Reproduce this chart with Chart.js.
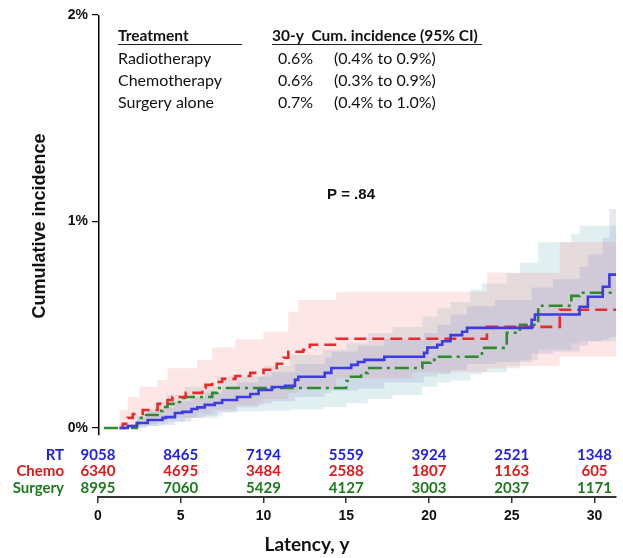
<!DOCTYPE html>
<html>
<head>
<meta charset="utf-8">
<script src="https://cdn.jsdelivr.net/npm/chart.js@4.4.0/dist/chart.umd.min.js"></script>
<style>
  html, body { margin: 0; padding: 0; background: #fff; }
</style>
</head>
<body>
<canvas id="chart" width="623" height="558"></canvas>
<script>
// --- Courbes d'incidence cumulée (en %) ---
const rtT = [1.3, 1.8, 2.35, 3.0, 3.9, 4.1, 4.65, 5.1, 5.65, 6.0, 6.45, 7.05, 7.5, 8.4, 9.2, 9.7, 10.5, 11.3, 11.9, 12.1, 13.7, 14.1, 15.3, 15.7, 16.1, 17.3, 19.7, 19.9, 20.5, 20.8, 21.3, 22.0, 22.3, 26.2, 26.4, 29.1, 29.6, 30.5, 30.9, 31.3];
const rtV = [0, 0.01, 0.024, 0.039, 0.049, 0.053, 0.073, 0.078, 0.092, 0.10, 0.112, 0.121, 0.136, 0.15, 0.165, 0.184, 0.199, 0.204, 0.233, 0.248, 0.267, 0.291, 0.306, 0.32, 0.33, 0.345, 0.364, 0.39, 0.403, 0.42, 0.45, 0.466, 0.485, 0.524, 0.55, 0.587, 0.636, 0.684, 0.743, 0.743];

const chT = [1.3, 1.5, 1.8, 2.1, 2.7, 3.6, 4.2, 4.5, 5.3, 6.3, 6.5, 6.9, 7.5, 8.3, 9.2, 10.0, 10.8, 11.2, 11.5, 12.4, 12.8, 14.4, 23.5, 27.9, 31.3];
const chV = [0, 0.02, 0.049, 0.068, 0.087, 0.117, 0.136, 0.150, 0.170, 0.194, 0.209, 0.223, 0.238, 0.252, 0.267, 0.282, 0.311, 0.34, 0.369, 0.379, 0.403, 0.432, 0.49, 0.573, 0.573];

const sgT = [0.36, 2.35, 2.5, 2.9, 3.6, 3.9, 4.2, 4.65, 4.95, 5.25, 6.9, 7.2, 15.0, 15.2, 15.9, 16.3, 19.6, 20.1, 20.5, 23.2, 24.7, 25.5, 26.6, 28.6, 29.1, 31.3];
const sgV = [0, 0.024, 0.049, 0.063, 0.083, 0.102, 0.117, 0.126, 0.146, 0.150, 0.170, 0.194, 0.228, 0.248, 0.267, 0.291, 0.316, 0.33, 0.345, 0.388, 0.461, 0.50, 0.592, 0.64, 0.655, 0.655];

// --- Intervalles de confiance 95% ---
const rtBandT = [1.3, 2.35, 3.0, 3.9, 4.65, 5.65, 6.45, 7.5, 8.4, 9.7, 10.5, 11.9, 13.7, 14.1, 15.7, 17.3, 19.7, 20.5, 21.3, 22.3, 24.0, 26.2, 27.5, 29.1, 29.6, 30.5, 30.9, 31.3];
const rtUp = [0.02, 0.06, 0.08, 0.10, 0.13, 0.15, 0.17, 0.20, 0.22, 0.25, 0.27, 0.31, 0.34, 0.37, 0.40, 0.43, 0.46, 0.50, 0.55, 0.59, 0.62, 0.68, 0.72, 0.78, 0.84, 0.92, 1.06, 1.06];
const rtLo = [0, 0.005, 0.01, 0.015, 0.03, 0.05, 0.06, 0.075, 0.10, 0.12, 0.13, 0.15, 0.17, 0.18, 0.19, 0.22, 0.25, 0.26, 0.28, 0.31, 0.32, 0.36, 0.37, 0.40, 0.42, 0.43, 0.44, 0.44];

const chBandT = [1.3, 1.8, 2.5, 3.6, 4.2, 6.0, 6.9, 8.3, 10.0, 11.5, 12.1, 14.4, 19.0, 23.5, 25.5, 27.9, 31.3];
const chUp = [0.087, 0.15, 0.2, 0.233, 0.29, 0.33, 0.39, 0.43, 0.466, 0.563, 0.62, 0.66, 0.66, 0.752, 0.752, 0.90, 0.90];
const chLo = [0, 0.01, 0.02, 0.04, 0.05, 0.07, 0.09, 0.11, 0.14, 0.17, 0.19, 0.24, 0.27, 0.29, 0.30, 0.345, 0.345];

const sgBandT = [0.36, 2.35, 2.9, 3.6, 4.2, 5.25, 7.2, 10.0, 11.6, 13.6, 15.0, 16.3, 17.8, 19.6, 20.5, 21.3, 22.5, 23.2, 24.7, 25.5, 26.6, 28.6, 29.1, 31.3];
const sgUp = [0.005, 0.05, 0.09, 0.126, 0.16, 0.2, 0.25, 0.30, 0.354, 0.38, 0.41, 0.46, 0.49, 0.54, 0.58, 0.61, 0.67, 0.70, 0.75, 0.80, 0.90, 0.94, 0.98, 0.98];
const sgLo = [0, 0, 0.01, 0.02, 0.03, 0.05, 0.08, 0.085, 0.09, 0.10, 0.12, 0.14, 0.16, 0.20, 0.22, 0.23, 0.26, 0.27, 0.30, 0.33, 0.38, 0.41, 0.42, 0.42];

// --- Axes ---
const xTicks = [0, 5, 10, 15, 20, 25, 30];
const yTicks = [0, 1, 2];

// --- Tableau des effectifs à risque ---
const riskLabels = ['RT', 'Chemo', 'Surgery'];
const riskRT = [9058, 8465, 7194, 5559, 3924, 2521, 1348];
const riskChemo = [6340, 4695, 3484, 2588, 1807, 1163, 605];
const riskSurgery = [8995, 7060, 5429, 4127, 3003, 2037, 1171];

// --- Légende (tableau) ---
const treatments = ['Radiotherapy', 'Chemotherapy', 'Surgery alone'];
const cum30 = ['0.6%', '0.6%', '0.7%'];
const ci30 = ['(0.4% to 0.9%)', '(0.3% to 0.9%)', '(0.4% to 1.0%)'];
const pValue = 'P = .84';

const BLUE = '#3c3ce0', RED = '#e82a2a', GREEN = '#2e8a2e';
const CALIBRI = 'Lato, "Open Sans", sans-serif';
const ARIAL = '"Liberation Sans", Arial, sans-serif';

const pts = (t, v) => t.map((x, i) => ({ x, y: v[i] }));

const lineDs = (t, v, color, dash) => ({
  data: pts(t, v), borderColor: color, borderWidth: 2.6, borderDash: dash,
  stepped: true, pointRadius: 0, fill: false
});
const bandDs = (t, v, fillColor, fill) => ({
  data: pts(t, v), borderWidth: 0, borderColor: 'rgba(0,0,0,0)', backgroundColor: fillColor,
  stepped: true, pointRadius: 0, fill
});

/** Dessine les textes, le tableau à risque et l'axe Y raccourci. */
const overlay = {
  id: 'overlay',
  afterDraw(chart) {
    const ctx = chart.ctx, xs = chart.scales.x, ys = chart.scales.y;
    ctx.save();

    // axe Y (s'arrête juste sous 0%)
    const ax = chart.chartArea.left + 0.75;
    ctx.strokeStyle = '#000';
    ctx.lineWidth = 1.5;
    ctx.beginPath();
    ctx.moveTo(ax, ys.getPixelForValue(2));
    ctx.lineTo(ax, ys.getPixelForValue(-0.035));
    ctx.stroke();

    // tableau de légende
    ctx.fillStyle = '#111';
    ctx.textBaseline = 'middle';
    ctx.textAlign = 'left';
    ctx.font = `bold 15.5px ${CALIBRI}`;
    ctx.fillText('Treatment', 118, 36);
    ctx.fillText('30-y  Cum. incidence (95% CI)', 272, 36);
    ctx.lineWidth = 1;
    ctx.strokeStyle = '#222';
    ctx.beginPath();
    ctx.moveTo(118, 44.5); ctx.lineTo(242, 44.5);
    ctx.moveTo(272, 44.5); ctx.lineTo(482, 44.5);
    ctx.stroke();
    ctx.font = `16px ${CALIBRI}`;
    treatments.forEach((name, i) => {
      const y = 59 + i * 22;
      ctx.fillText(name, 118, y);
      ctx.fillText(cum30[i], 278, y);
      ctx.fillText(ci30[i], 334, y);
    });

    // valeur p
    ctx.font = `bold 15px ${ARIAL}`;
    ctx.textAlign = 'center';
    ctx.fillText(pValue, 351, 195);

    // effectifs à risque
    const rows = [riskRT, riskChemo, riskSurgery];
    const rowColors = ['#2020e0', '#e01818', '#1c7a1c'];
    ctx.font = `bold 15px ${CALIBRI}`;
    rows.forEach((vals, r) => {
      const y = 455 + r * 16.5;
      ctx.fillStyle = rowColors[r];
      ctx.textAlign = 'right';
      ctx.fillText(riskLabels[r], 64, y);
      ctx.textAlign = 'center';
      vals.forEach((n, i) => ctx.fillText(String(n), xs.getPixelForValue(xTicks[i]), y));
    });

    // titres des axes
    ctx.fillStyle = '#111';
    ctx.font = `bold 19px ${CALIBRI}`;
    ctx.textAlign = 'center';
    ctx.fillText('Latency, y', 307, 545);
    ctx.font = `bold 18px ${ARIAL}`;
    ctx.translate(40, 226);
    ctx.rotate(-Math.PI / 2);
    ctx.fillText('Cumulative incidence', 0, 0);

    ctx.restore();
  }
};

new Chart(document.getElementById('chart'), {
  type: 'line',
  data: {
    datasets: [
      lineDs(rtT, rtV, BLUE, []),
      lineDs(chT, chV, RED, [12, 6]),
      lineDs(sgT, sgV, GREEN, [14, 5, 3, 5]),
      bandDs(rtBandT, rtUp, 'rgba(125,135,200,0.20)', '+1'),
      bandDs(rtBandT, rtLo, 'rgba(0,0,0,0)', false),
      bandDs(chBandT, chUp, 'rgba(240,140,140,0.22)', '+1'),
      bandDs(chBandT, chLo, 'rgba(0,0,0,0)', false),
      bandDs(sgBandT, sgUp, 'rgba(120,180,190,0.22)', '+1'),
      bandDs(sgBandT, sgLo, 'rgba(0,0,0,0)', false)
    ]
  },
  options: {
    responsive: false,
    animation: false,
    layout: { padding: { top: 15, right: 7, left: 0, bottom: 0 } },
    plugins: { legend: { display: false }, tooltip: { enabled: false } },
    scales: {
      x: {
        type: 'linear', min: 0, max: 31.3,
        afterBuildTicks: s => { s.ticks = xTicks.map(v => ({ value: v })); },
        afterFit: s => { s.height = 61; },
        border: { color: '#333', width: 2 },
        grid: { drawOnChartArea: false, drawTicks: true, tickLength: 6, color: '#333', lineWidth: 1.5 },
        ticks: { font: { family: ARIAL, weight: 'bold', size: 14 }, color: '#111', padding: 5, maxRotation: 0 }
      },
      y: {
        min: -0.334, max: 2,
        afterBuildTicks: s => { s.ticks = yTicks.map(v => ({ value: v })); },
        afterFit: s => { s.width = 98; },
        border: { display: false },
        grid: { drawOnChartArea: false, drawTicks: true, tickLength: 6, color: '#000', lineWidth: 1.2 },
        ticks: { callback: v => v + '%', font: { family: ARIAL, weight: 'bold', size: 14 }, color: '#111', padding: 4 }
      }
    }
  },
  plugins: [overlay]
});
</script>
</body>
</html>
